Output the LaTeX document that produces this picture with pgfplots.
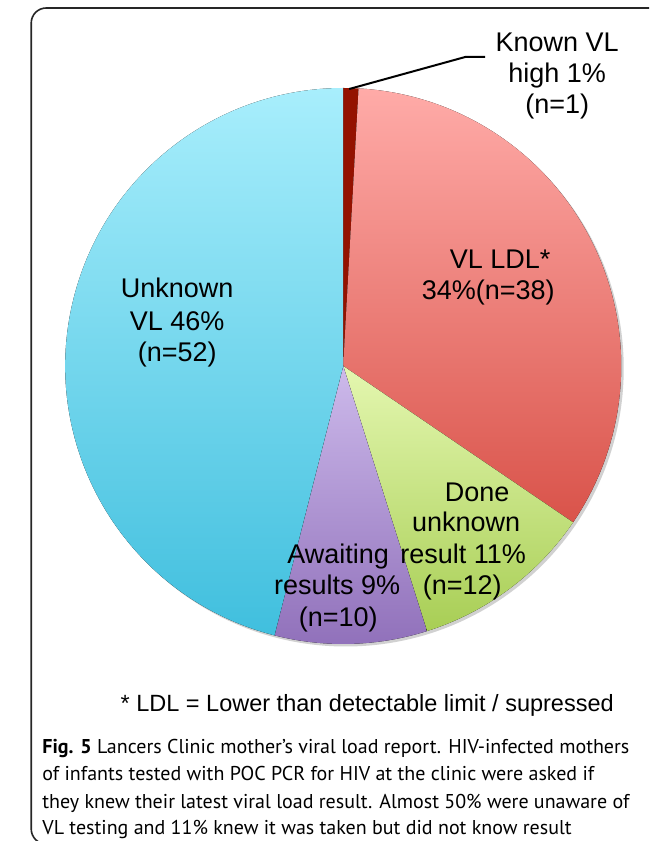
\documentclass[border=0pt]{standalone}
\usepackage{pgfplots}
\pgfplotsset{compat=1.18}
\usepackage{pgfplotstable}
\usepackage{fontspec}
\setmainfont{Liberation Sans}
\newfontfamily\capfont{PT Sans}
\definecolor{knownc}{HTML}{941200}
\definecolor{ldlT}{HTML}{FFABA8}
\definecolor{ldlB}{HTML}{D9534A}
\definecolor{doneT}{HTML}{E4F7B0}
\definecolor{doneB}{HTML}{A8CE55}
\definecolor{awT}{HTML}{CDBAEB}
\definecolor{awB}{HTML}{9070BA}
\definecolor{unT}{HTML}{A8EEFC}
\definecolor{unB}{HTML}{40BFDE}
\pgfplotstableread{
label n
KnownHigh 1
LDL 38
DoneUnknown 12
Awaiting 10
Unknown 52
}\piedata
\begin{document}
\pgfplotstablegetelem{0}{n}\of\piedata\let\nA\pgfplotsretval
\pgfplotstablegetelem{1}{n}\of\piedata\let\nB\pgfplotsretval
\pgfplotstablegetelem{2}{n}\of\piedata\let\nC\pgfplotsretval
\pgfplotstablegetelem{3}{n}\of\piedata\let\nD\pgfplotsretval
\pgfplotstablegetelem{4}{n}\of\piedata\let\nE\pgfplotsretval
\pgfmathsetmacro\tot{\nA+\nB+\nC+\nD+\nE}
\pgfmathsetmacro\sA{90}
\pgfmathsetmacro\sB{\sA-360*(\nA/\tot)}
\pgfmathsetmacro\sC{\sB-360*(\nB/\tot)}
\pgfmathsetmacro\sD{\sC-360*(\nC/\tot)}
\pgfmathsetmacro\sE{\sD-360*(\nD/\tot)}
\pgfmathsetmacro\sF{\sE-360*(\nE/\tot)}
\def\R{278pt}
\begin{tikzpicture}
\begin{axis}[
  x=1pt, y=1pt,
  xmin=0, xmax=627, ymin=0, ymax=841,
  hide axis, clip=true,
  scale only axis,
]
\coordinate (BL) at (axis cs:0,0);
\coordinate (TR) at (axis cs:627,841);
% frame
\draw[line width=1.6pt, rounded corners=15pt, color=black!85] (axis cs:9,-3) rectangle (axis cs:700,833);
% shadow
\fill[black!18] (axis cs:323.5,472.5) circle[radius=\R];
% slices
\fill[knownc] (axis cs:321,475) -- ++(\sA:\R) arc[start angle=\sA, end angle=\sB, radius=\R] -- cycle;
\fill[top color=ldlT, bottom color=ldlB] (axis cs:321,475) -- ++(\sB:\R) arc[start angle=\sB, end angle=\sC, radius=\R] -- cycle;
\fill[top color=doneT, bottom color=doneB] (axis cs:321,475) -- ++(\sC:\R) arc[start angle=\sC, end angle=\sD, radius=\R] -- cycle;
\fill[top color=awT, bottom color=awB] (axis cs:321,475) -- ++(\sD:\R) arc[start angle=\sD, end angle=\sE, radius=\R] -- cycle;
\fill[top color=unT, bottom color=unB] (axis cs:321,475) -- ++(\sE:\R) arc[start angle=\sE, end angle=\sF, radius=\R] -- cycle;
% leader line
\draw[line width=2pt] (axis cs:327,752) -- (axis cs:443,784) -- (axis cs:463,784);
% labels
\tikzset{lab/.style={anchor=base, inner sep=0pt, font=\fontsize{27}{31}\selectfont}}
\node[lab] at (axis cs:535,789) {Known VL};
\node[lab] at (axis cs:535,758) {high 1\%};
\node[lab] at (axis cs:535,727) {(n=1)};
\node[lab] at (axis cs:478,572) {VL LDL*};
\node[lab] at (axis cs:466,541) {34\%(n=38)};
\node[lab] at (axis cs:155,543) {Unknown};
\node[lab] at (axis cs:155,510) {VL 46\%};
\node[lab] at (axis cs:155,479) {(n=52)};
\node[lab] at (axis cs:455,339) {Done};
\node[lab] at (axis cs:444,309) {unknown};
\node[lab] at (axis cs:441,277) {result 11\%};
\node[lab] at (axis cs:440,246) {(n=12)};
\node[lab] at (axis cs:316,277) {Awaiting};
\node[lab] at (axis cs:315,246) {results 9\%};
\node[lab] at (axis cs:316,214) {(n=10)};
\node[lab, font=\fontsize{23.5}{28}\selectfont] at (axis cs:345,129) {* LDL = Lower than detectable limit / supressed};
\tikzset{figcap/.style={anchor=base west, inner sep=0pt, font=\capfont\fontsize{20}{27}\selectfont}}
\node[figcap] at (axis cs:20,87) {\textbf{Fig. 5} Lancers Clinic mother’s viral load report. HIV-infected mothers};
\node[figcap] at (axis cs:20,60) {of infants tested with POC PCR for HIV at the clinic were asked if};
\node[figcap] at (axis cs:20,32) {they knew their latest viral load result. Almost 50\% were unaware of};
\node[figcap] at (axis cs:20,6) {VL testing and 11\% knew it was taken but did not know result};
\end{axis}
\pgfresetboundingbox
\path[use as bounding box] (BL) rectangle (TR);
\end{tikzpicture}
\end{document}
